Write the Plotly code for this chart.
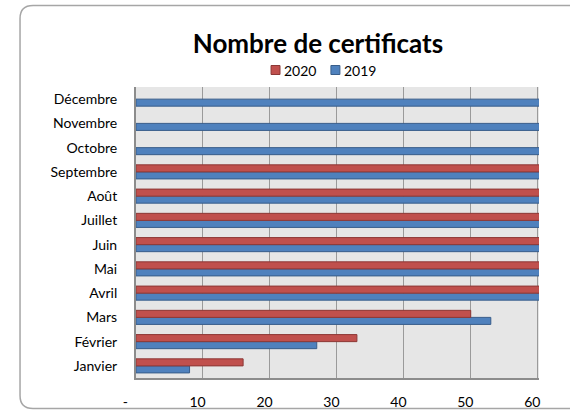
import plotly.graph_objects as go

months = ["Janvier", "Février", "Mars", "Avril", "Mai", "Juin",
          "Juillet", "Août", "Septembre", "Octobre", "Novembre", "Décembre"]
# values above 60 are clipped by the axis in the original chart
v2020 = [16, 33, 50, 65, 65, 65, 65, 65, 65, None, None, None]
v2019 = [8, 27, 53, 65, 65, 65, 65, 65, 65, 65, 65, 65]
tick_vals = [0, 10, 20, 30, 40, 50, 60]
tick_text = ["-", "10", "20", "30", "40", "50", "60"]
series = [("2020", "#C0504D", "#8C3836"), ("2019", "#4F81BD", "#385D8A")]

W, H = 570, 410
PL, PR, PT, PB = 135.7, 539.5, 87, 378
L, T = PL, PT
R, B = W - PR, H - PB
pw, ph = PR - PL, PB - PT

def px(x):
    return (x - PL) / pw

def py(y):
    return (PB - y) / ph

NB = "\u00a0"
ttext = [t + NB * (6 if t == "-" else 3) for t in tick_text]

fig = go.Figure()
fig.add_trace(go.Bar(name="2019", y=months, x=v2019, orientation="h",
                     marker=dict(color="#4F81BD", line=dict(color="#385D8A", width=1))))
fig.add_trace(go.Bar(name="2020", y=months, x=v2020, orientation="h",
                     marker=dict(color="#C0504D", line=dict(color="#8C3836", width=1))))

# rounded frame (extends past the right edge)
x0, y0, x1, y1, r = 19.5, 5.5, 620, 408.5, 13
path = (f"M {px(x1)},{py(y1)} L {px(x0 + r)},{py(y1)} "
        f"Q {px(x0)},{py(y1)} {px(x0)},{py(y1 - r)} "
        f"L {px(x0)},{py(y0 + r)} "
        f"Q {px(x0)},{py(y0)} {px(x0 + r)},{py(y0)} L {px(x1)},{py(y0)}")
shapes = [dict(type="path", xref="paper", yref="paper", path=path,
               line=dict(color="#A6A6A6", width=1.5))]
annotations = []

# compact legend
lx = [271, 331]
ly = 70
for (name, col, edge), x in zip(series, lx):
    shapes.append(dict(type="rect", xref="paper", yref="paper",
                       x0=px(x), x1=px(x + 9), y0=py(ly + 4.5), y1=py(ly - 4.5),
                       fillcolor=col, line=dict(color=edge, width=1)))
    annotations.append(dict(text=name, xref="paper", yref="paper", x=px(x + 11),
                            y=py(ly), xanchor="left", yanchor="middle", showarrow=False,
                            font=dict(family="Lato", size=14, color="black")))

fig.update_layout(
    width=W, height=H,
    margin=dict(l=L, r=R, t=T, b=B, autoexpand=False),
    paper_bgcolor="white",
    plot_bgcolor="#E6E6E6",
    barmode="group", bargap=0.42, bargroupgap=0,
    title=dict(text="<b>Nombre de certificats</b>", x=318 / W, xanchor="center",
               xref="container", y=1 - 44 / H, yanchor="middle",
               font=dict(family="Lato", size=26, color="black")),
    font=dict(family="Lato", size=14, color="black"),
    showlegend=False,
    hovermode=False,
    shapes=shapes,
    annotations=annotations,
    xaxis=dict(range=[0, 60.2], tickvals=tick_vals, ticktext=ttext, showgrid=True,
               gridcolor="#9A9A9A", gridwidth=1, showline=True, linecolor="#8C8C8C",
               linewidth=2, ticks="", zeroline=False, ticklabelstandoff=10,
               automargin=False, fixedrange=True),
    yaxis=dict(showgrid=False, showline=True, linecolor="#8C8C8C", linewidth=2,
               ticks="", ticklabelstandoff=14, categoryorder="array", categoryarray=months,
               automargin=False, fixedrange=True),
)

fig.write_html("out.html", config={"displayModeBar": False},
               post_script="document.body.style.margin='0';document.body.style.overflow='hidden';")
